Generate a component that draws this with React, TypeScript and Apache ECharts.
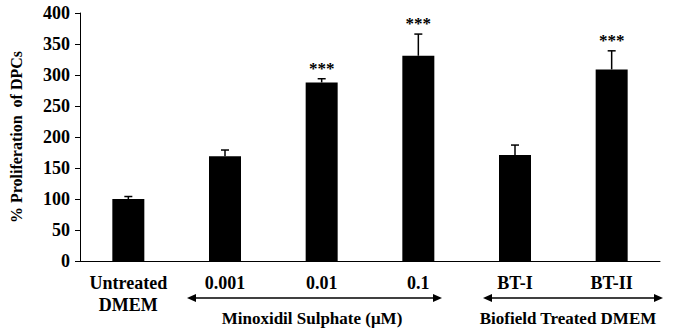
import React, { useEffect, useRef } from "react";
import * as echarts from "echarts";

const categories = ["Untreated\nDMEM", "0.001", "0.01", "0.1", "BT-I", "BT-II"];
const means = [100, 169, 288, 331, 171, 309];
const errors = [4, 10, 6, 35, 16, 30];
const significance = ["", "", "***", "***", "", "***"];
const yTicks = { min: 0, max: 400, interval: 50 };
const groupLabels = ["Minoxidil Sulphate (\u03bcM)", "Biofield Treated DMEM"];

const FONT = "'Liberation Serif', 'Times New Roman', serif";

function arrow(x1: number, x2: number, y: number) {
  return [
    { type: "line", shape: { x1: x1 + 6, y1: y, x2: x2 - 6, y2: y }, style: { stroke: "#000", lineWidth: 1.5 } },
    { type: "polygon", shape: { points: [[x1, y], [x1 + 9, y - 4], [x1 + 9, y + 4]] }, style: { fill: "#000" } },
    { type: "polygon", shape: { points: [[x2, y], [x2 - 9, y - 4], [x2 - 9, y + 4]] }, style: { fill: "#000" } },
  ];
}

export default function App() {
  const ref = useRef<HTMLDivElement>(null);
  useEffect(() => {
    const chart = echarts.init(ref.current!, null, { renderer: "svg" });
    chart.setOption({
      animation: false,
      backgroundColor: "#fff",
      grid: { left: 78, right: 18, top: 13, bottom: 75 },
      xAxis: {
        type: "category",
        data: categories,
        axisLine: { lineStyle: { color: "#000", width: 1 } },
        axisTick: { show: false },
        axisLabel: {
          color: "#000",
          fontFamily: FONT,
          fontWeight: "bold",
          fontSize: 18,
          lineHeight: 22,
          margin: 11,
          interval: 0,
        },
      },
      yAxis: {
        type: "value",
        min: yTicks.min,
        max: yTicks.max,
        interval: yTicks.interval,
        name: "% Proliferation  of DPCs",
        nameLocation: "middle",
        nameGap: 56,
        nameRotate: 90,
        nameTextStyle: { color: "#000", fontFamily: FONT, fontWeight: "bold", fontSize: 16 },
        axisLine: { show: true, lineStyle: { color: "#000", width: 1 } },
        axisTick: { show: true, length: 5, lineStyle: { color: "#000" } },
        splitLine: { show: false },
        axisLabel: { color: "#000", fontFamily: FONT, fontWeight: "bold", fontSize: 18, margin: 10 },
      },
      series: [
        {
          type: "bar",
          data: means,
          barWidth: 32,
          itemStyle: { color: "#000" },
        },
        {
          type: "custom",
          data: means.map((m, i) => [i, m, errors[i]]),
          z: 10,
          renderItem: (params: any, api: any) => {
            const i = api.value(0);
            const m = api.value(1);
            const e = api.value(2);
            const base = api.coord([i, m]);
            const top = api.coord([i, m + e]);
            const children: any[] = [
              { type: "line", shape: { x1: base[0], y1: base[1], x2: top[0], y2: top[1] }, style: { stroke: "#000", lineWidth: 1.5 } },
              { type: "line", shape: { x1: top[0] - 4, y1: top[1], x2: top[0] + 4, y2: top[1] }, style: { stroke: "#000", lineWidth: 1.5 } },
            ];
            const s = significance[params.dataIndex];
            if (s) {
              children.push({
                type: "text",
                style: {
                  text: s,
                  x: top[0],
                  y: top[1] - 2,
                  align: "center",
                  verticalAlign: "bottom",
                  font: "bold 17px " + FONT,
                  fill: "#000",
                },
              });
            }
            return { type: "group", children };
          },
        },
      ],
      graphic: [
        ...arrow(187, 442, 298),
        ...arrow(483, 663, 298),
        {
          type: "text",
          style: { text: groupLabels[0], x: 312, y: 318, align: "center", verticalAlign: "middle", font: "bold 17px " + FONT, fill: "#000" },
        },
        {
          type: "text",
          style: { text: groupLabels[1], x: 568, y: 318, align: "center", verticalAlign: "middle", font: "bold 17px " + FONT, fill: "#000" },
        },
      ],
    });
    return () => chart.dispose();
  }, []);
  return <div ref={ref} style={{ width: 678, height: 336, position: "fixed", left: 0, top: 0 }} />;
}
